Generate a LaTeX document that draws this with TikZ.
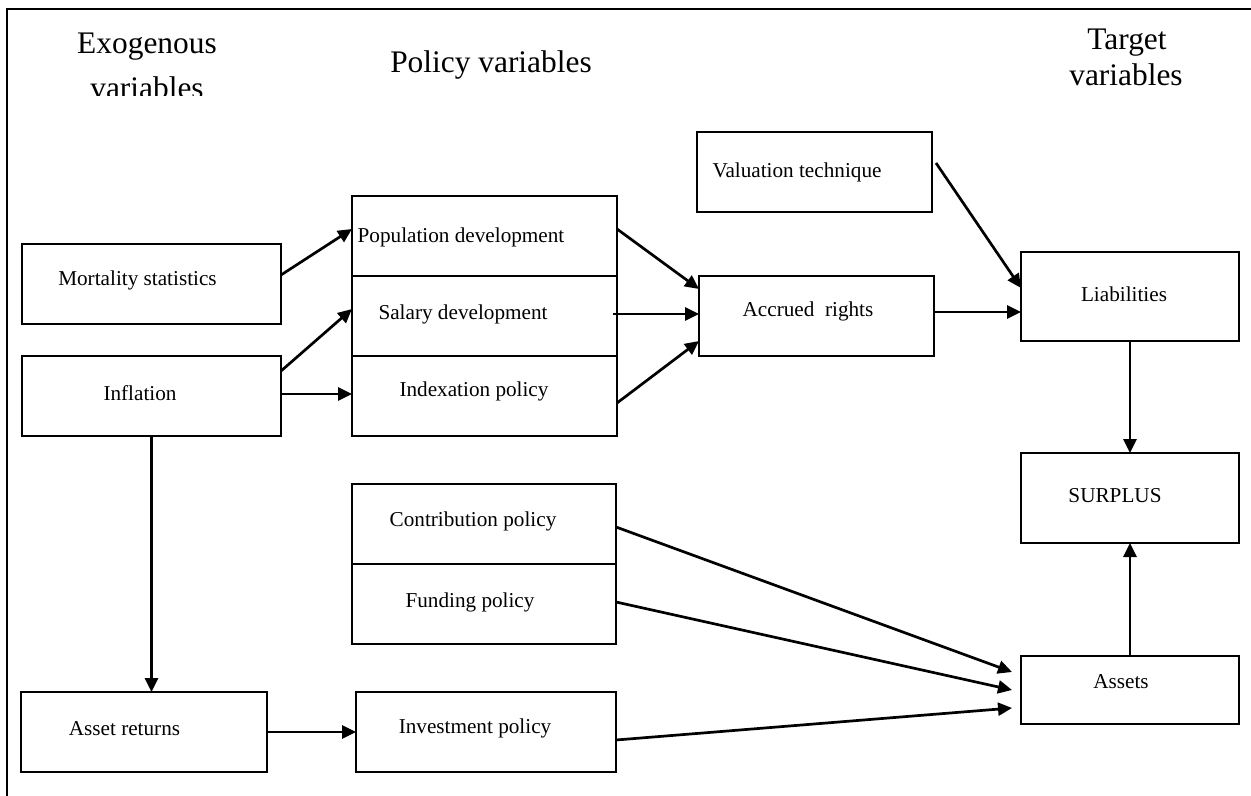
\documentclass[tikz,border=0pt]{standalone}
\usepackage{fontspec}
\setmainfont{Liberation Serif}
\usetikzlibrary{arrows.meta,calc}
\begin{document}
\begin{tikzpicture}[x=0.5pt,y=-0.5pt,
  box/.style={draw, line width=1.45pt, minimum height=40pt, inner sep=0pt, outer sep=0pt},
  txt/.style={inner sep=0pt, font=\fontsize{10.6}{12}\selectfont},
  ttl/.style={inner sep=0pt, anchor=base, font=\fontsize{15.7}{18}\selectfont},
  arr/.style={line width=1.35pt, -{Triangle[length=7pt,width=6.5pt]}},
  frameline/.style={line width=1.45pt}]
\useasboundingbox (0,0) rectangle (1251,796);

% frame
\coordinate (ftl) at (7,9);
\coordinate (ftr) at (1251,9);
\coordinate (fbl) at (7,796);
\draw[frameline] (ftr) -- (ftl) -- (fbl);

% titles
\node[ttl] (exo1) at (147,54) {Exogenous};
\begin{scope}
  \clip (0,0) rectangle (400,96);
  \node[ttl] (exo2) at (147,99) {variables};
\end{scope}
\node[ttl] (pol) at (491,73) {Policy variables};
\node[ttl] (tar1) at (1127,50) {Target};
\node[ttl] (tar2) at (1126,86) {variables};

% boxes
\node[box, minimum width=129.5pt] (mort) at (151.5,284) {};
\node[txt] (mortT) at (137.5,280) {Mortality statistics};
\node[box, minimum width=129.5pt] (infl) at (151.5,396) {};
\node[txt] (inflT) at (140,393) {Inflation};

\node[box, minimum width=132.5pt] (pop) at (484.5,236) {};
\node[txt] (popT) at (461,237) {Population development};
\node[box, minimum width=132.5pt] (sal) at (484.5,316) {};
\node[txt] (salT) at (463,314) {Salary development};
\node[box, minimum width=132.5pt] (idx) at (484.5,396) {};
\node[txt] (idxT) at (474,391) {Indexation policy};

\node[box, minimum width=117.5pt] (val) at (814.5,172) {};
\node[txt] (valT) at (797,172) {Valuation technique};
\node[box, minimum width=117.5pt] (acc) at (816.5,316) {};
\node[txt] (accT) at (808,311) {Accrued~~rights};

\node[box, minimum width=109pt, minimum height=44.5pt] (liab) at (1130,296.5) {};
\node[txt] (liabT) at (1124,294) {Liabilities};
\node[box, minimum width=109pt, minimum height=45pt] (surp) at (1130,498) {};
\node[txt] (surpT) at (1115,496) {SURPLUS};
\node[box, minimum width=109pt, minimum height=34pt] (ast) at (1130,690) {};
\node[txt] (astT) at (1121,682) {Assets};

\node[box, minimum width=132pt] (con) at (484,524) {};
\node[txt] (conT) at (473,521) {Contribution policy};
\node[box, minimum width=132pt] (fun) at (484,604) {};
\node[txt] (funT) at (470,602) {Funding policy};

\node[box, minimum width=123pt] (ret) at (144,732) {};
\node[txt] (retT) at (124.5,729) {Asset returns};
\node[box, minimum width=130pt] (inv) at (486,732) {};
\node[txt] (invT) at (475,728) {Investment policy};

% connectors
\draw[arr] ($(mort.east)+(0,-9)$) -- ($(pop.west)+(0,-7)$);
\draw[arr] ($(infl.east)+(0,-25)$) -- ($(sal.west)+(0,-7)$);
\draw[arr] ($(infl.east)+(0,-2)$) -- ($(idx.west)+(0,-2)$);
\draw[arr] (infl.south) -- (infl.south |- ret.north);
\draw[arr] (ret.east) -- (inv.west);
\draw[arr] ($(pop.east)+(0,-7)$) -- ($(acc.west)+(0,-27)$);
\draw[arr] ($(sal.east)+(-4,-2)$) -- ($(acc.west)+(0,-2)$);
\draw[arr] ($(idx.east)+(0,7)$) -- ($(acc.west)+(0,25)$);
\draw[arr] ($(val.east)+(4,-9)$) -- ($(liab.west)+(0,-8.5)$);
\draw[arr] ($(acc.east)+(0,-4)$) -- ($(liab.west)+(0,15.5)$);
\draw[arr] (liab.south) -- (surp.north);
\draw[arr] (ast.north) -- (surp.south);
\draw[arr] ($(con.east)+(0,3)$) -- ($(ast.west)+(-9,-18)$);
\draw[arr] ($(fun.east)+(0,-2)$) -- ($(ast.west)+(-9,0)$);
\draw[arr] ($(inv.east)+(0,8)$) -- ($(ast.west)+(-9,18)$);
\end{tikzpicture}
\end{document}
